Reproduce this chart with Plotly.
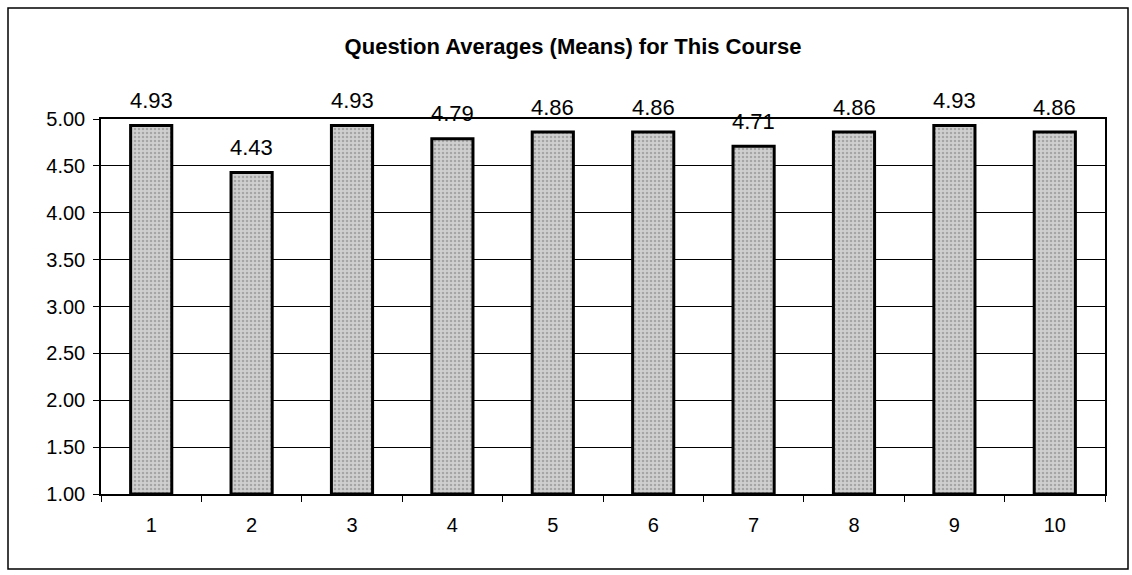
import plotly.graph_objects as go

questions = ["1", "2", "3", "4", "5", "6", "7", "8", "9", "10"]
means = [4.93, 4.43, 4.93, 4.79, 4.86, 4.86, 4.71, 4.86, 4.93, 4.86]
y_ticks = [1.0, 1.5, 2.0, 2.5, 3.0, 3.5, 4.0, 4.5, 5.0]

W, H = 1132, 575
L, R, T, B = 101, 27, 119, 81
pw, ph = W - L - R, H - T - B

def px_x(x):
    return (x - L) / pw

def px_y(y):
    return (H - B - y) / ph

FONT = "Liberation Sans, Arial, sans-serif"

fig = go.Figure()
fig.add_trace(go.Bar(
    x=questions, y=[m - 1.0 for m in means], base=1.0,
    marker=dict(color="#c4c4c4", line=dict(color="black", width=3),
                pattern=dict(shape=".", fgcolor="#7a7a7a", bgcolor="#cfcfcf", size=4, solidity=0.3)),
    hoverinfo="skip",
))

annotations = [
    dict(x=i, y=m, xref="x", yref="y", text=f"{m:.2f}", showarrow=False,
         yanchor="middle", yshift=25, font=dict(size=22, color="black", family=FONT))
    for i, m in enumerate(means)
]

fig.update_layout(
    width=W, height=H,
    margin=dict(l=L, r=R, t=T, b=B),
    paper_bgcolor="white", plot_bgcolor="white",
    font=dict(family=FONT, color="black", size=20),
    bargap=0.59,
    showlegend=False,
    title=dict(text="<b>Question Averages (Means) for This Course</b>",
               x=573 / W, xanchor="center", xref="container",
               y=1 - 46 / H, yanchor="middle", yref="container",
               font=dict(size=22, family=FONT)),
    annotations=annotations,
    shapes=[dict(type="rect", xref="paper", yref="paper",
                 x0=px_x(8), x1=px_x(1128), y0=px_y(569), y1=px_y(8),
                 line=dict(color="black", width=1.5))],
)
fig.update_yaxes(range=[1, 5], tickvals=y_ticks, ticktext=[f"{v:.2f}" for v in y_ticks],
                 showgrid=True, gridcolor="black", gridwidth=1,
                 showline=True, linecolor="black", linewidth=1.5, mirror=True,
                 ticks="outside", ticklen=6, tickcolor="black",
                 tickfont=dict(size=20), ticklabelstandoff=4, zeroline=False)
fig.update_xaxes(type="category", showline=True, linecolor="black", linewidth=1.5, mirror=True,
                 ticks="outside", ticklen=6, tickcolor="black", tickson="boundaries",
                 tickfont=dict(size=20), ticklabelstandoff=12, showgrid=False)

fig.write_html("out.html", config={"displayModeBar": False},
               post_script="document.body.style.margin='0';document.body.style.overflow='hidden';")
